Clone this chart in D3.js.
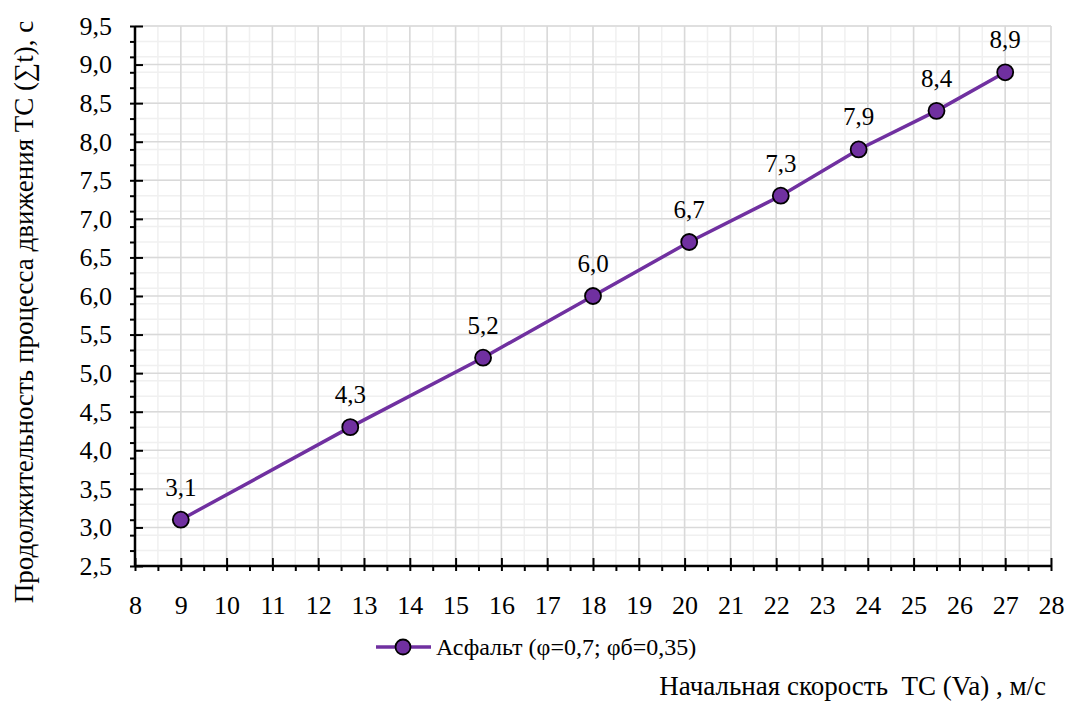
<!DOCTYPE html>
<html>
<head>
<meta charset="utf-8">
<script src="https://cdn.jsdelivr.net/npm/d3@7/dist/d3.min.js"></script>
<style>
  html, body { margin: 0; padding: 0; background: #fff; }
</style>
</head>
<body>
<svg id="chart" width="1066" height="702"></svg>
<script>
// Initial vehicle speed (m/s) and total motion duration (s)
const speeds = [9, 12.7, 15.6, 18, 20.1, 22.1, 23.8, 25.5, 27];
const durations = [3.1, 4.3, 5.2, 6.0, 6.7, 7.3, 7.9, 8.4, 8.9];
const seriesName = "Асфальт (φ=0,7; φб=0,35)";
const xTitle = "Начальная скорость  ТС (Va) , м/с";
const yTitle = "Продолжительность процесса движения ТС (∑t), с";

const svg = d3.select("#chart");
const plot = { left: 135, right: 1051, top: 26, bottom: 566 };
const purple = "#7030a0";
const FONT = '"Liberation Serif"';
const fmt = v => d3.format(".1f")(v).replace(".", ",");
const serif = sel => sel.style("font-family", FONT).style("white-space", "pre").attr("fill", "#000");

const x = d3.scaleLinear().domain([8, 28]).range([plot.left, plot.right]);
const y = d3.scaleLinear().domain([2.5, 9.5]).range([plot.bottom, plot.top]);

const xMajor = d3.range(8, 28.001, 1);
const xMinor = d3.range(8, 28.001, 0.5);
const yMajor = d3.range(0, 15).map(i => 2.5 + i * 0.5);
const yMinor = d3.range(0, 36).map(i => +(2.5 + i * 0.2).toFixed(2));

const grid = svg.append("g");
// minor grid
grid.selectAll(".vmin").data(xMinor).join("line")
  .attr("x1", d => x(d)).attr("x2", d => x(d))
  .attr("y1", plot.top).attr("y2", plot.bottom)
  .attr("stroke", "#f0f0f0").attr("stroke-width", 1.5);
grid.selectAll(".hmin").data(yMinor).join("line")
  .attr("x1", plot.left).attr("x2", plot.right)
  .attr("y1", d => y(d)).attr("y2", d => y(d))
  .attr("stroke", "#f0f0f0").attr("stroke-width", 1.5);
// major grid
grid.selectAll(".vmaj").data(xMajor).join("line")
  .attr("x1", d => x(d)).attr("x2", d => x(d))
  .attr("y1", plot.top).attr("y2", plot.bottom)
  .attr("stroke", "#d9d9d9").attr("stroke-width", 1.5);
grid.selectAll(".hmaj").data(yMajor).join("line")
  .attr("x1", plot.left).attr("x2", plot.right)
  .attr("y1", d => y(d)).attr("y2", d => y(d))
  .attr("stroke", "#d9d9d9").attr("stroke-width", 1.5);

// Axes: minor ticks outside, major ticks inside
const axes = svg.append("g");
const xAxisG = axes.append("g").attr("transform", `translate(0,${plot.bottom})`);
xAxisG.call(d3.axisBottom(x).tickValues(xMinor).tickSize(5).tickFormat(""))
  .call(g => g.select(".domain").remove());
xAxisG.append("g").call(d3.axisTop(x).tickValues(xMajor).tickSize(8).tickFormat(""))
  .call(g => g.select(".domain").remove());
xAxisG.append("g").call(d3.axisBottom(x).tickValues(xMajor).tickSize(0).tickPadding(30).tickFormat(d3.format("d")))
  .call(g => g.select(".domain").remove());
xAxisG.selectAll("line").attr("stroke", "#000").attr("stroke-width", 2);
xAxisG.selectAll("text").attr("font-size", 26).call(serif);

const yAxisG = axes.append("g").attr("transform", `translate(${plot.left},0)`);
yAxisG.call(d3.axisLeft(y).tickValues(yMinor).tickSize(5).tickFormat(""))
  .call(g => g.select(".domain").remove());
yAxisG.append("g").call(d3.axisRight(y).tickValues(yMajor).tickSize(8).tickFormat(""))
  .call(g => g.select(".domain").remove());
yAxisG.append("g").call(d3.axisLeft(y).tickValues(yMajor).tickSize(0).tickPadding(23).tickFormat(fmt))
  .call(g => g.select(".domain").remove());
yAxisG.selectAll("line").attr("stroke", "#000").attr("stroke-width", 2);
yAxisG.selectAll("text").attr("font-size", 26).call(serif);

axes.append("line").attr("x1", plot.left).attr("x2", plot.right)
  .attr("y1", plot.bottom).attr("y2", plot.bottom).attr("stroke", "#000").attr("stroke-width", 2.5);
axes.append("line").attr("x1", plot.left).attr("x2", plot.left)
  .attr("y1", plot.top).attr("y2", plot.bottom).attr("stroke", "#000").attr("stroke-width", 2.5);

// Series
const points = speeds.map((s, i) => ({ s, t: durations[i] }));
const line = d3.line().x(d => x(d.s)).y(d => y(d.t));
svg.append("path").datum(points).attr("d", line)
  .attr("fill", "none").attr("stroke", purple).attr("stroke-width", 3.5);
svg.selectAll(".pt").data(points).join("circle")
  .attr("cx", d => x(d.s)).attr("cy", d => y(d.t)).attr("r", 8)
  .attr("fill", purple).attr("stroke", "#000").attr("stroke-width", 1.8);
svg.selectAll(".lbl").data(points).join("text")
  .attr("x", d => x(d.s)).attr("y", d => y(d.t) - 24)
  .attr("text-anchor", "middle").attr("font-size", 25)
  .call(serif)
  .text(d => fmt(d.t));

// Legend
const lg = svg.append("g").attr("transform", "translate(376,647)");
lg.append("line").attr("x1", 0).attr("x2", 55).attr("y1", 0).attr("y2", 0)
  .attr("stroke", purple).attr("stroke-width", 3.5);
lg.append("circle").attr("cx", 27).attr("cy", 0).attr("r", 7.5)
  .attr("fill", purple).attr("stroke", "#000").attr("stroke-width", 1.8);
lg.append("text").attr("x", 60).attr("y", 8).attr("font-size", 24).call(serif).text(seriesName);

// Axis titles
svg.append("text").attr("x", 1046).attr("y", 695).attr("text-anchor", "end")
  .attr("font-size", 27).call(serif).text(xTitle);
svg.append("text").attr("transform", "translate(33,312) rotate(-90)")
  .attr("text-anchor", "middle").attr("font-size", 27).call(serif).text(yTitle);
</script>
</body>
</html>
